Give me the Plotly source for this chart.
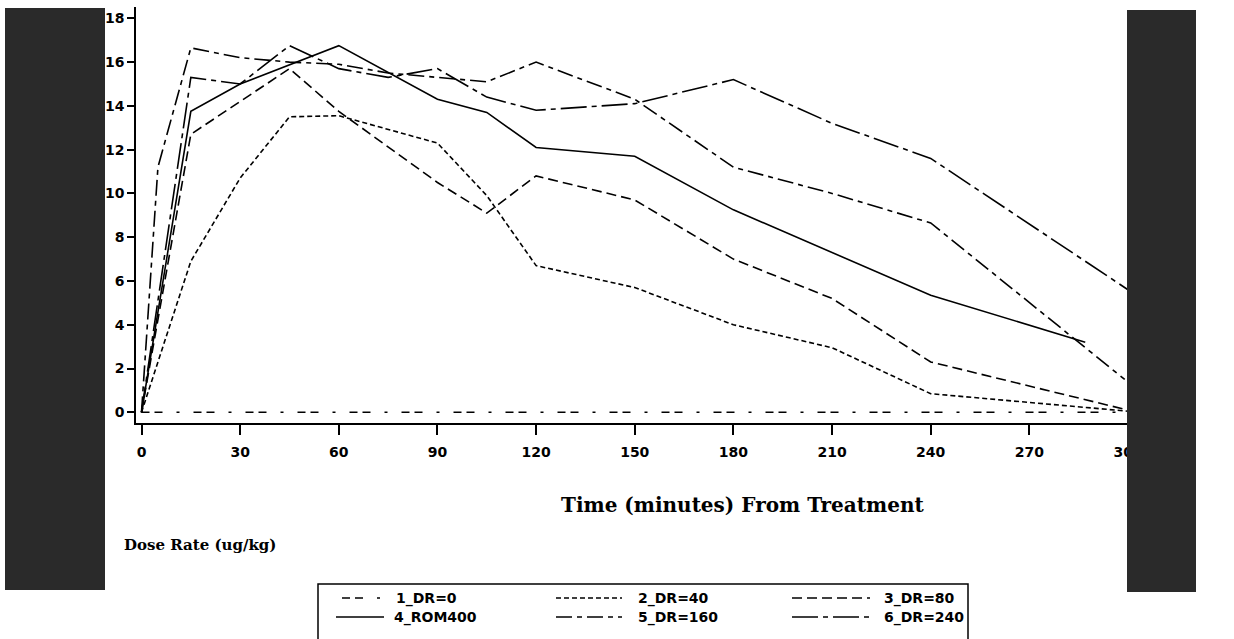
import plotly.graph_objects as go

# ---------------- data ----------------
t_dr0 = [0, 15, 30, 45, 60, 90, 105, 120, 150, 180, 210, 240, 270, 300]
v_dr0 = [0, 0, 0, 0, 0, 0, 0, 0, 0, 0, 0, 0, 0, 0]

t_dr40 = [0, 15, 30, 45, 60, 90, 105, 120, 150, 180, 210, 240, 300]
v_dr40 = [0, 6.9, 10.7, 13.5, 13.55, 12.3, 9.9, 6.7, 5.7, 4.0, 2.95, 0.85, 0.05]

t_dr80 = [0, 15, 45, 60, 90, 105, 120, 150, 180, 210, 240, 300]
v_dr80 = [0, 12.7, 15.7, 13.75, 10.5, 9.1, 10.8, 9.7, 7.0, 5.2, 2.3, 0.1]

t_rom400 = [0, 15, 30, 60, 90, 105, 120, 150, 180, 210, 240, 287]
v_rom400 = [0, 13.75, 15.0, 16.75, 14.3, 13.7, 12.1, 11.7, 9.25, 7.3, 5.35, 3.2]

t_dr160 = [0, 5, 15, 30, 45, 60, 75, 90, 105, 120, 150, 180, 210, 240, 299]
v_dr160 = [0, 11.2, 16.65, 16.2, 16.0, 15.9, 15.5, 15.3, 15.1, 16.0, 14.3, 11.2, 10.0, 8.65, 1.5]

t_dr240 = [0, 15, 30, 45, 60, 75, 90, 105, 120, 150, 180, 210, 240, 300]
v_dr240 = [0, 15.3, 15.0, 16.75, 15.7, 15.3, 15.7, 14.4, 13.8, 14.1, 15.2, 13.2, 11.6, 5.6]

series_names = ["1_DR=0", "2_DR=40", "3_DR=80", "4_ROM400", "5_DR=160", "6_DR=240"]
x_ticks = [0, 30, 60, 90, 120, 150, 180, 210, 240, 270, 300]
y_ticks = [0, 2, 4, 6, 8, 10, 12, 14, 16, 18]

# ---------------- styles ----------------
dashes = [
    "8px,5px,8px,14px,3px,14px",
    "5px,3px",
    "10px,5px",
    "solid",
    "16px,5px,5px,5px",
    "26px,5px,5px,5px",
]
series = [
    (t_dr0, v_dr0), (t_dr40, v_dr40), (t_dr80, v_dr80),
    (t_rom400, v_rom400), (t_dr160, v_dr160), (t_dr240, v_dr240),
]

fig = go.Figure()
for name, (t, v), d in zip(series_names, series, dashes):
    fig.add_trace(go.Scatter(
        x=t, y=v, mode="lines", name=name,
        line=dict(color="black", width=1.6, dash=d),
        showlegend=False, hoverinfo="skip",
    ))

# plot area in pixels: x 136..1130, y 7..423
L, R, T, B = 136, 1130, 7, 423
W, H = 1234, 639


def px(x):
    return (x - L) / (R - L)


def py(y):
    return (B - y) / (B - T)


shapes = []
annotations = []

# custom legend box
shapes.append(dict(type="rect", xref="paper", yref="paper",
                   x0=px(318), x1=px(968), y0=py(650), y1=py(584),
                   line=dict(color="black", width=1.5), fillcolor="rgba(0,0,0,0)",
                   layer="above"))
leg_rows = [598, 617]
leg_layout = [
    # (sample x0, sample x1, text x, row)
    (342, 380, 394, 0),
    (556, 622, 636, 0),
    (792, 870, 882, 0),
    (336, 384, 392, 1),
    (556, 622, 636, 1),
    (792, 870, 882, 1),
]
for name, d, (sx0, sx1, tx, r) in zip(series_names, dashes, leg_layout):
    yy = leg_rows[r]
    shapes.append(dict(type="line", xref="paper", yref="paper",
                       x0=px(sx0), x1=px(sx1), y0=py(yy), y1=py(yy),
                       line=dict(color="black", width=1.4, dash=d), layer="above"))
    annotations.append(dict(text=name, xref="paper", yref="paper",
                            x=px(tx), y=py(yy), xanchor="left", yanchor="middle",
                            showarrow=False,
                            font=dict(family="DejaVu Sans", size=14, color="black",
                                      weight="bold")))

# axis titles
annotations.append(dict(text="Time (minutes) From Treatment", xref="paper", yref="paper",
                        x=px(742), y=py(505), xanchor="center", yanchor="middle",
                        showarrow=False,
                        font=dict(family="DejaVu Serif", size=20, color="black",
                                  weight="bold")))
annotations.append(dict(text="Dose Rate (ug/kg)", xref="paper", yref="paper",
                        x=px(122), y=py(545), xanchor="left", yanchor="middle",
                        showarrow=False,
                        font=dict(family="DejaVu Serif", size=15, color="black",
                                  weight="bold")))

# scanned dark borders of the page
shapes.append(dict(type="rect", xref="paper", yref="paper",
                   x0=px(5), x1=px(105), y0=py(590), y1=py(8),
                   line=dict(width=0), fillcolor="#2a2a2a", layer="above"))
shapes.append(dict(type="rect", xref="paper", yref="paper",
                   x0=px(1127), x1=px(1196), y0=py(592), y1=py(10),
                   line=dict(width=0), fillcolor="#2a2a2a", layer="above"))

x_per_px = 300 / (1128 - 141.5)
y_per_px = 18 / (412.3 - 18.3)
xr = [0 - (141.5 - L) * x_per_px, 300 + (R - 1128) * x_per_px]
yr = [0 - (B - 412.3) * y_per_px, 0 + (412.3 - T) * y_per_px]

fig.update_layout(
    width=W, height=H,
    margin=dict(l=L, r=W - R, t=T, b=H - B, autoexpand=False),
    paper_bgcolor="white", plot_bgcolor="white",
    shapes=shapes, annotations=annotations,
    xaxis=dict(range=xr, tickvals=x_ticks, ticks="outside", ticklen=10, tickwidth=1.5,
               tickcolor="black", showline=True, linecolor="black", linewidth=1.5,
               showgrid=False, zeroline=False, ticklabelstandoff=5,
               tickfont=dict(family="DejaVu Sans", size=14, color="black", weight="bold")),
    yaxis=dict(range=yr, tickvals=y_ticks, ticks="outside", ticklen=7, tickwidth=1.5,
               tickcolor="black", showline=True, linecolor="black", linewidth=1.5,
               showgrid=False, zeroline=False,
               tickfont=dict(family="DejaVu Sans", size=14, color="black", weight="bold")),
)

fig.write_html("out.html", config={"displayModeBar": False},
               post_script="document.body.style.margin='0';document.body.style.overflow='hidden';")
